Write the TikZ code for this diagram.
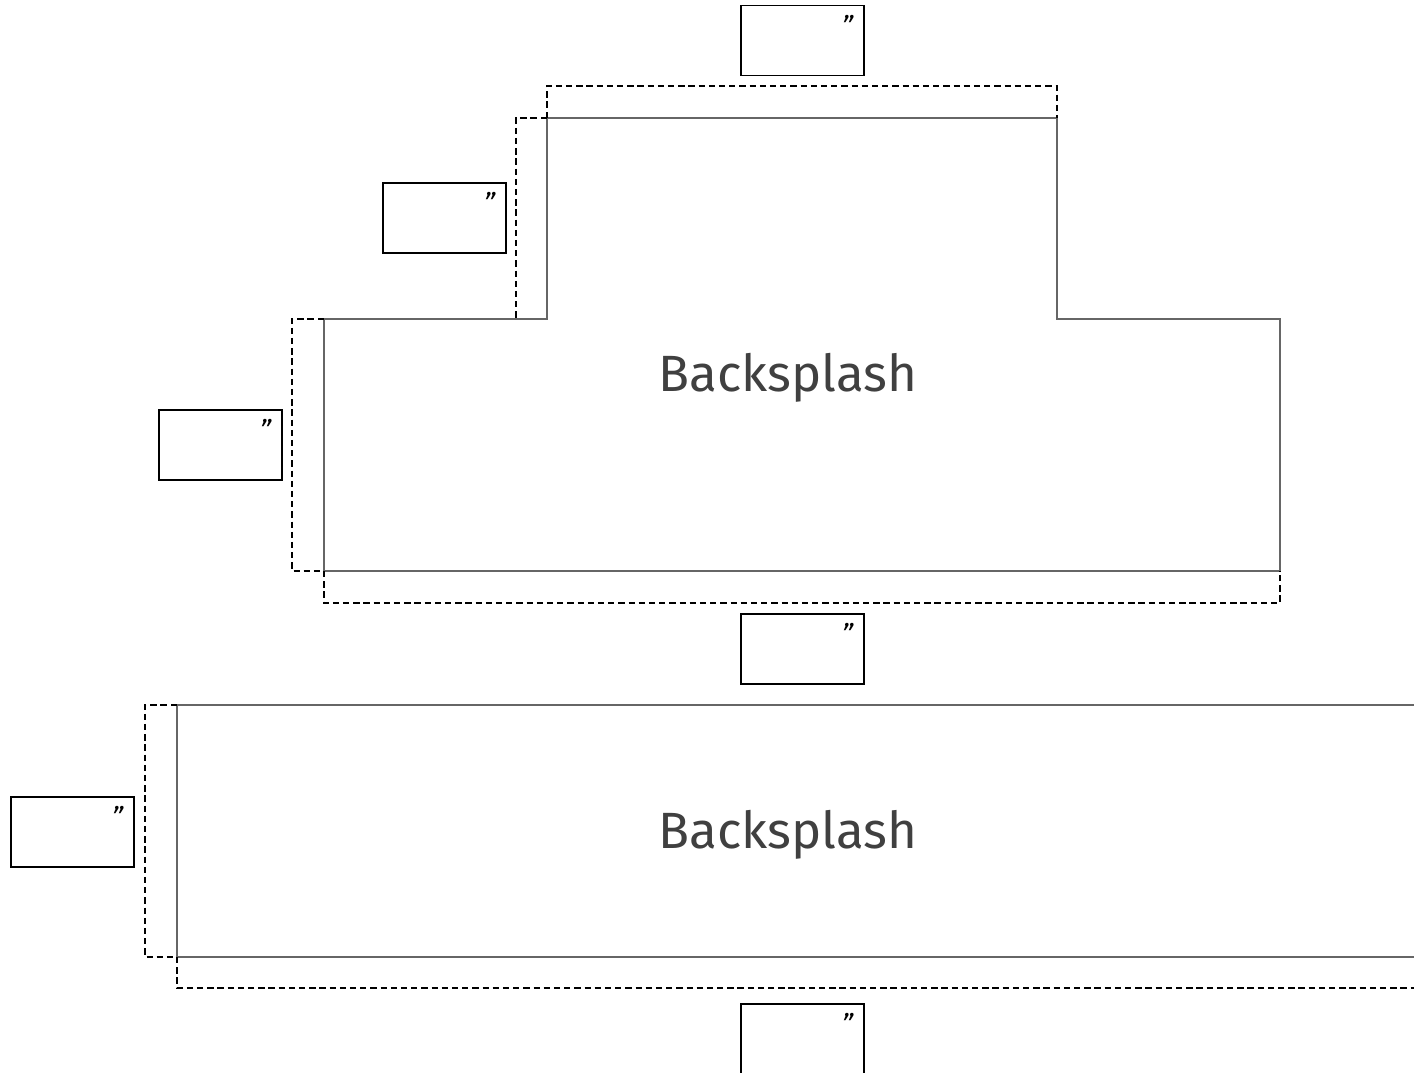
\documentclass[tikz,border=0pt]{standalone}
\usepackage{fontspec}
\setmainfont{Fira Sans}
\usetikzlibrary{positioning}
\begin{document}
\begin{tikzpicture}[x=0.01cm, y=-0.01cm, outline/.style={draw=black!60, line width=0.35pt}, cut/.style={draw=black, line width=0.6pt, dash pattern=on 1.8pt off 1.1pt}, size box/.style={draw, line width=0.5pt, minimum width=1.23cm, minimum height=0.70cm, inner sep=0pt}, inch/.style={font=\fontsize{8}{8}\selectfont\itshape, inner sep=0pt}, splash/.style={font=\fontsize{14.5}{16}\selectfont, text=black!75}]
\useasboundingbox (0,0) rectangle (1414,1073);
\clip (0,0) rectangle (1414,1073);
% upper piece
\draw[outline] (324,319) -- (547,319) -- (547,118) -- (1057,118) -- (1057,319) -- (1280,319) -- (1280,571) -- (324,571) -- cycle;
\draw[cut] (547,118) -- (547,86) -- (1057,86) -- (1057,118);
\draw[cut] (547,118) -- (516,118) -- (516,319);
\draw[cut] (324,319) -- (292,319) -- (292,571) -- (324,571);
\draw[cut] (324,571) -- (324,603) -- (1280,603) -- (1280,571);
\node[splash] (upper) at (788,378) {Backsplash};
% lower piece
\draw[outline] (1430,705) -- (177,705) -- (177,957) -- (1430,957);
\draw[cut] (177,705) -- (145,705) -- (145,957) -- (177,957);
\draw[cut] (177,957) -- (177,988) -- (1430,988);
\node[splash] (lower) at (788,835) {Backsplash};
% size boxes
\foreach \n/\x/\y in {a/802.5/40.5, b/444.5/218, c/220.5/445, d/802.5/649, e/72.5/832, f/802.5/1039} {
  \node[size box] (\n) at (\x,\y) {};
  \node[inch, below left=0.1cm and 0.11cm of \n.north east] (\n q) {\symbol{"22}};
}
\end{tikzpicture}
\end{document}
